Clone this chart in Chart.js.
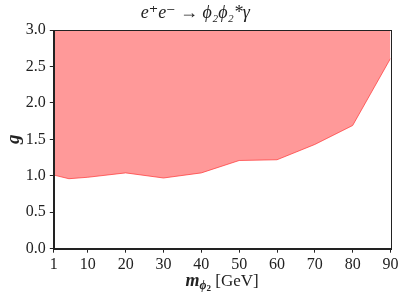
<!DOCTYPE html>
<html>
<head>
<meta charset="utf-8">
<script src="https://cdn.jsdelivr.net/npm/chart.js@4.4.1/dist/chart.umd.min.js"></script>
<style>
html,body{margin:0;padding:0;background:#fff;}
#wrap{width:406px;height:300px;}
</style>
</head>
<body>
<div id="wrap"><canvas id="c" width="406" height="300"></canvas></div>
<script>
// Data
const masses = [1, 5, 10, 20, 30, 40, 50, 60, 70, 80, 90];
const gLimit = [1.01, 0.96, 0.98, 1.04, 0.97, 1.04, 1.21, 1.22, 1.43, 1.69, 2.61];
const xTickValues = [1, 10, 20, 30, 40, 50, 60, 70, 80, 90];
const yTickValues = [0, 0.5, 1.0, 1.5, 2.0, 2.5, 3.0];
const titleText = 'e⁺e⁻ → ϕ₂ϕ₂*γ';
const yLabel = 'g';

const SERIF = "'Liberation Serif', 'DejaVu Serif', serif";
const INK = '#222';

const framePlugin = {
  id: 'frame',
  afterDatasetsDraw(chart) {
    const {ctx, chartArea: a} = chart;
    ctx.save();
    ctx.strokeStyle = INK;
    ctx.lineWidth = 1;
    ctx.strokeRect(Math.round(a.left) + 0.5, Math.round(a.top) + 0.5,
                   Math.round(a.right - a.left), Math.round(a.bottom - a.top));
    ctx.restore();
  }
};

const xLabelPlugin = {
  id: 'xlabel',
  afterDraw(chart) {
    const {ctx, chartArea: a} = chart;
    ctx.save();
    ctx.fillStyle = INK;
    ctx.textBaseline = 'alphabetic';
    const parts = [
      {t: 'm', f: `bold italic 18px ${SERIF}`, dy: 0},
      {t: 'ϕ', f: `bold italic 12px ${SERIF}`, dy: 3},
      {t: '2', f: `bold 9px ${SERIF}`, dy: 5},
      {t: ' [GeV]', f: `17px ${SERIF}`, dy: 0}
    ];
    let total = 0;
    parts.forEach(p => { ctx.font = p.f; p.w = ctx.measureText(p.t).width; total += p.w; });
    let x = (a.left + a.right) / 2 - total / 2;
    const base = 286;
    parts.forEach(p => { ctx.font = p.f; ctx.fillText(p.t, x, base + p.dy); x += p.w; });
    ctx.restore();
  }
};

new Chart(document.getElementById('c'), {
  type: 'line',
  data: {
    datasets: [{
      data: masses.map((m, i) => ({x: m, y: gLimit[i]})),
      fill: 'end',
      backgroundColor: 'rgba(255, 0, 0, 0.4)',
      borderColor: 'rgba(255, 60, 60, 0.75)',
      borderWidth: 1,
      pointRadius: 0,
      tension: 0
    }]
  },
  options: {
    responsive: false,
    animation: false,
    devicePixelRatio: 1,
    layout: {padding: {left: 0, right: 15.5, top: 0, bottom: 0}},
    plugins: {
      legend: {display: false},
      tooltip: {enabled: false},
      title: {
        display: true,
        text: titleText,
        color: INK,
        font: {family: SERIF, size: 18, style: 'italic', weight: 'normal', lineHeight: 1.2},
        padding: {top: 2, bottom: 6.4}
      }
    },
    scales: {
      x: {
        type: 'linear',
        min: 1, max: 90,
        afterBuildTicks(s) { s.ticks = xTickValues.map(v => ({value: v})); },
        afterFit(s) { s.height = 51.3; },
        grid: {drawOnChartArea: false, drawTicks: true, tickLength: 4, color: INK},
        border: {display: true, color: INK, width: 1},
        ticks: {color: INK, font: {family: SERIF, size: 16}, padding: 2, maxRotation: 0, autoSkip: false,
                callback: v => String(v)}
      },
      y: {
        type: 'linear',
        min: 0, max: 3,
        afterBuildTicks(s) { s.ticks = yTickValues.map(v => ({value: v})); },
        afterFit(s) { s.width = 53.8; },
        grid: {drawOnChartArea: false, drawTicks: true, tickLength: 4, color: INK},
        border: {display: true, color: INK, width: 1},
        title: {display: true, text: yLabel, color: INK,
                font: {family: SERIF, size: 19, style: 'italic', weight: 'bold', lineHeight: 1.2},
                padding: {top: 3, bottom: 0}},
        ticks: {color: INK, font: {family: SERIF, size: 16}, padding: 4,
                callback: v => Number(v).toFixed(1)}
      }
    }
  },
  plugins: [framePlugin, xLabelPlugin]
});
</script>
</body>
</html>
